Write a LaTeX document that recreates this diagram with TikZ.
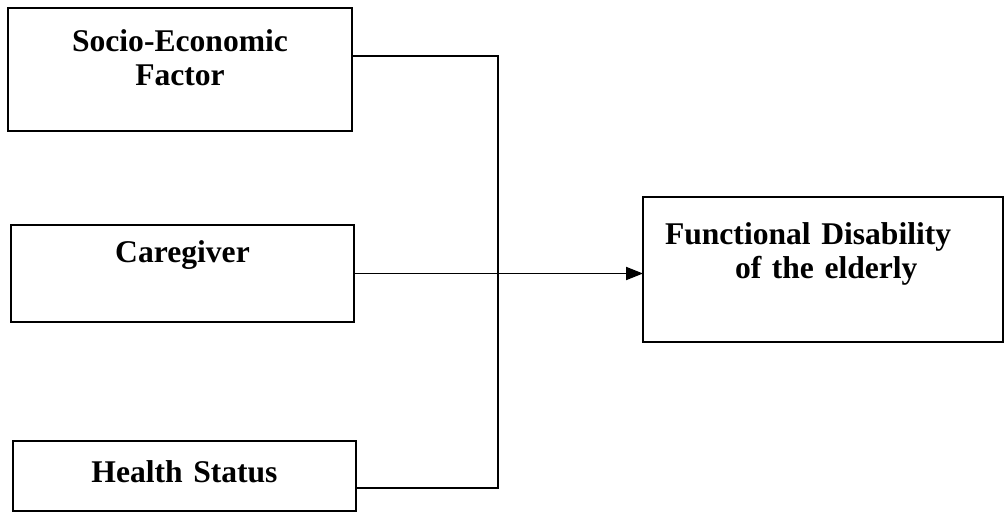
\documentclass[tikz,border=0pt]{standalone}
\usepackage{fontspec}
\setmainfont{Liberation Serif}
\usetikzlibrary{arrows.meta}

\tikzset{
  factor/.style={draw,line width=1pt,rectangle,inner ysep=0pt,inner xsep=6pt,
    outer sep=0pt,anchor=north west,align=center,
    font=\bfseries\fontsize{15.8}{17}\selectfont},
  wire/.style={draw,line width=0.95pt},
}

\begin{document}
\begin{tikzpicture}[x=0.5pt,y=-0.5pt]
\useasboundingbox (0,0) rectangle (1005,512);
% the three factors
\node[factor,text width=160pt,text height=22pt,text depth=39.5pt] (socio) at (8,8)
  {Socio-Economic\\Factor};
\node[factor,text width=159.5pt,text height=19pt,text depth=29.5pt] (care) at (11,225)
  {Caregiver};
\node[factor,text width=159.5pt,text height=20.5pt,text depth=14.5pt] (health) at (13,441)
  {Health Status};
% the outcome
\node[factor,align=left,inner xsep=11pt,text width=158pt,text height=24pt,text depth=48.5pt]
  (func) at (643,197) {Functional Disability\\\hspace*{35pt}of the elderly};
% connectors
\coordinate (joint) at (498,272);
\draw[wire] ([yshift=6.75pt]socio.east) -| (joint) |- ([yshift=-6pt]health.east);
\draw[wire,-{Triangle[length=8.5pt,width=6.5pt]}] (care.east) -- (care.east -| func.west);
\end{tikzpicture}
\end{document}
